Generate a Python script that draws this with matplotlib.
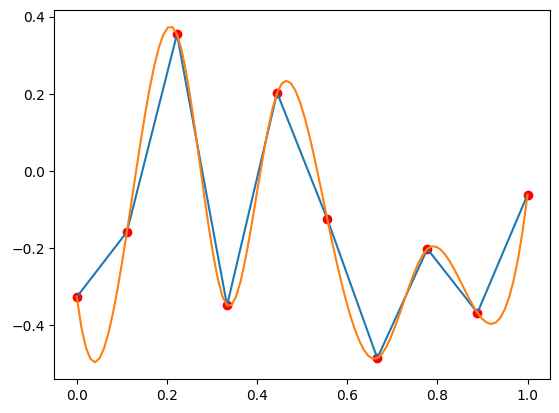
import numpy as np
import matplotlib.pyplot as plt

# sample points
x = np.linspace(0, 1, 10)
y = [-0.327, -0.158, 0.355, -0.349, 0.203, -0.124, -0.486, -0.202, -0.368, -0.0615]


def not_a_knot_spline(xs, ys, xnew):
    # cubic spline with not-a-knot end conditions (uniform spacing)
    ys = np.asarray(ys, dtype=float)
    n = len(xs)
    h = xs[1] - xs[0]
    A = np.zeros((n, n))
    rhs = np.zeros(n)
    A[0, 0:3] = [1, -2, 1]
    A[-1, -3:] = [1, -2, 1]
    for i in range(1, n - 1):
        A[i, i - 1:i + 2] = [1, 4, 1]
        rhs[i] = 6 / h**2 * (ys[i - 1] - 2 * ys[i] + ys[i + 1])
    M = np.linalg.solve(A, rhs)
    idx = np.clip(((xnew - xs[0]) / h).astype(int), 0, n - 2)
    a = (xs[idx + 1] - xnew) / h
    b = (xnew - xs[idx]) / h
    return (a * ys[idx] + b * ys[idx + 1]
            + ((a**3 - a) * M[idx] + (b**3 - b) * M[idx + 1]) * h**2 / 6)


xs = np.linspace(0, 1, 100)
ys = not_a_knot_spline(x, y, xs)

fig = plt.figure(figsize=(5.59, 4.13), dpi=100)
ax = fig.add_axes([0.0971, 0.0823, 0.8869, 0.8927])

ax.scatter(x, y, color='red')
ax.plot(x, y)
ax.plot(xs, ys)

plt.savefig('out.png', dpi=100)
